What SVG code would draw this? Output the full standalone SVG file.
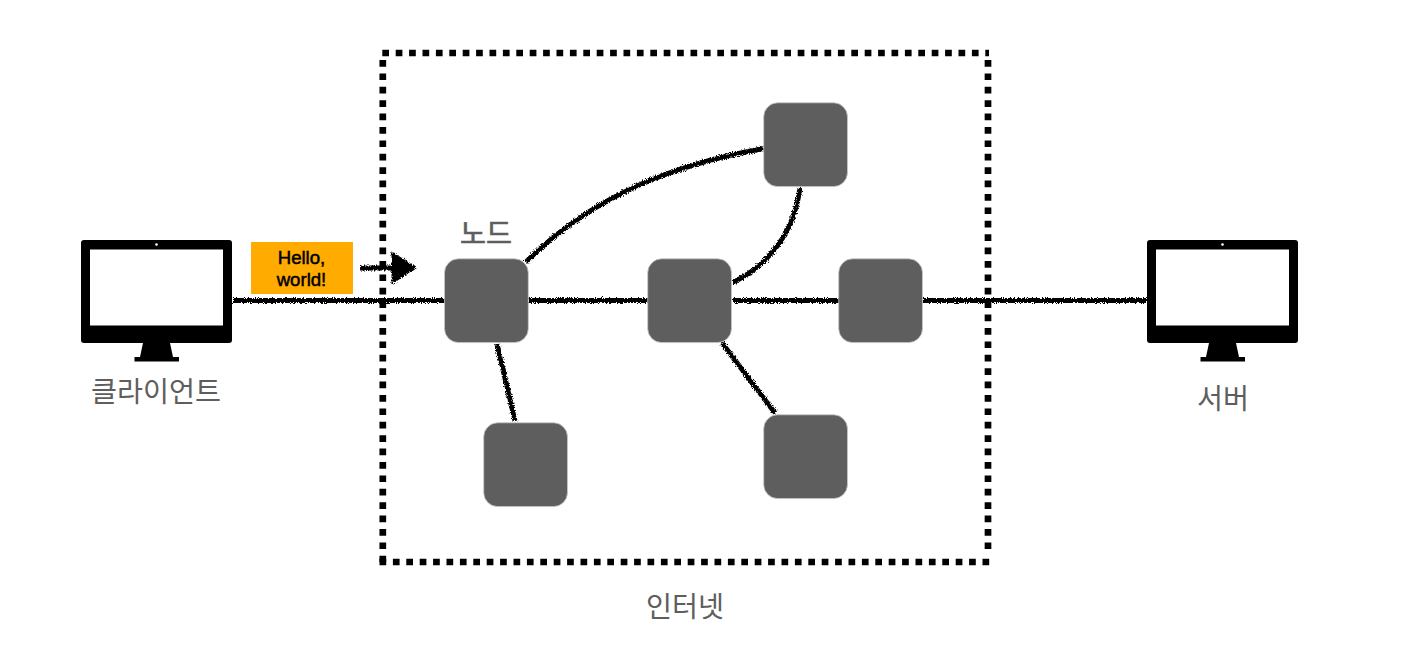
<svg xmlns="http://www.w3.org/2000/svg" width="1415" height="649" viewBox="0 0 1415 649">
<style>
.node{fill:#5e5e5e;stroke:#c8c8c8;stroke-width:0.8}
.ko{font-family:"Noto Sans CJK KR","Noto Sans",sans-serif;fill:#5e5e5e;text-anchor:middle;font-size:28.300px}
.en{font-family:"Liberation Sans",Arial,sans-serif;fill:#000;stroke:#000;stroke-width:0.500;font-size:18.600px;text-anchor:middle}
.rough{fill:none;stroke:#000;stroke-width:5;filter:url(#chalk)}
</style>
<defs>
<filter id="chalk" filterUnits="userSpaceOnUse" x="0" y="0" width="1415" height="649">
<feTurbulence type="fractalNoise" baseFrequency="0.9" numOctaves="2" seed="4"/>
<feDisplacementMap in="SourceGraphic" scale="5" xChannelSelector="R" yChannelSelector="G"/>
</filter>
<g id="monitor">
<rect x="0" y="0" width="151" height="103" rx="3" fill="#000"/>
<rect x="9" y="9.500" width="133" height="76" fill="#fff"/>
<circle cx="75.500" cy="4.500" r="1.300" fill="#fff"/>
<path d="M62 103H89L92 117H98V121.500H53.500V117H59Z" fill="#000"/>
</g>
</defs>
<g id="connectors">
<path class="rough" d="M233 300.500H445"/>
<path class="rough" d="M529 300.500H648"/>
<path class="rough" d="M733 300.500H839"/>
<path class="rough" d="M923 300.500H1147"/>
<path class="rough" d="M526 262C590 198 670 165 764 148.500"/>
<path class="rough" d="M800 188C794 232 770 264 733 282.500"/>
<path class="rough" d="M497 344L515 421"/>
<path class="rough" d="M722 343L775 413"/>
<path class="rough" d="M360 268H395"/>
<path d="M393 254L414 267.500L393 282Z" fill="#000" stroke="#000" stroke-width="3" filter="url(#chalk)"/>
</g>
<g id="internet">
<path d="M382.300 53H989" fill="none" stroke="#000" stroke-width="6.700" stroke-dasharray="6.700 6.700"/>
<path d="M988 60V552" fill="none" stroke="#000" stroke-width="6.700" stroke-dasharray="6.700 6.700"/>
<path d="M382.800 60V562" fill="none" stroke="#000" stroke-width="6.700" stroke-dasharray="6.700 6.700"/>
<path d="M379.500 562H991" fill="none" stroke="#000" stroke-width="6.700" stroke-dasharray="6.700 6.700"/>
<text class="ko" x="685" y="617">인터넷</text>
</g>
<g id="client">
<use href="#monitor" x="81" y="240"/>
<text class="ko" x="156" y="402">클라이언트</text>
</g>
<g id="server">
<use href="#monitor" x="1147" y="240"/>
<text class="ko" x="1223" y="409">서버</text>
</g>
<g id="message">
<rect x="251" y="242" width="102" height="52" fill="#ffab00"/>
<text class="en" x="301.500" y="264">Hello,</text>
<text class="en" x="301.500" y="286">world!</text>
</g>
<g id="node-a">
<rect class="node" x="444.500" y="258.800" width="83.800" height="83.800" rx="14"/>
<text class="ko" x="486" y="244" style="stroke:#5e5e5e;stroke-width:0.6">노드</text>
</g>
<g id="node-b"><rect class="node" x="647.700" y="258.800" width="83.800" height="83.800" rx="14"/></g>
<g id="node-c"><rect class="node" x="838.700" y="258.800" width="83.800" height="83.800" rx="14"/></g>
<g id="node-d"><rect class="node" x="763.700" y="102.800" width="83.800" height="83.800" rx="14"/></g>
<g id="node-e"><rect class="node" x="483.700" y="422.800" width="83.800" height="83.800" rx="14"/></g>
<g id="node-f"><rect class="node" x="763.700" y="414.800" width="83.800" height="83.800" rx="14"/></g>
</svg>
